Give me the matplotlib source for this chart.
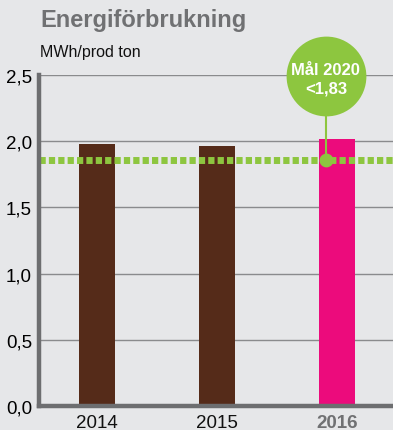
import matplotlib.pyplot as plt

years = ['2014', '2015', '2016']
values = [1.98, 1.96, 2.02]
bar_colors = ['#552b19', '#552b19', '#ec0b7c']
year_colors = ['#111111', '#111111', '#707173']
target_line = 1.86
target_label = 'Mål 2020\n<1,83'
yticks = [0.0, 0.5, 1.0, 1.5, 2.0, 2.5]
ytick_labels = ['0,0', '0,5', '1,0', '1,5', '2,0', '2,5']

bg = '#e6e7e9'
green = '#8dc63f'
grey = '#6d6e70'

plt.rcParams['font.family'] = ['Liberation Sans', 'DejaVu Sans']

fig = plt.figure(figsize=(3.93, 4.31), dpi=100, facecolor=bg)
ax = fig.add_axes([39/393, 24/431, 354/393, 331/431], facecolor=bg)

x = range(len(years))
ax.bar(x, values, width=0.3, color=bar_colors, zorder=3)

ax.set_xlim(-0.483, 2.467)
ax.set_ylim(0, 2.5)
ax.set_yticks(yticks)
ax.set_yticklabels(ytick_labels, fontsize=13.5)
ax.set_xticks(list(x))
ax.set_xticklabels(years, fontsize=13.5)
for lbl, c in zip(ax.get_xticklabels(), year_colors):
    lbl.set_color(c)
ax.get_xticklabels()[2].set_fontweight('bold')
ax.tick_params(length=0, pad=5)
ax.tick_params(axis='x', pad=6)
ax.yaxis.grid(True, color='#8a8b8d', linewidth=1.0, zorder=1)

for s in ['top', 'right']:
    ax.spines[s].set_visible(False)
for s in ['left', 'bottom']:
    ax.spines[s].set_color(grey)
    ax.spines[s].set_linewidth(3.2)
    ax.spines[s].set_zorder(5)

# target line
ax.axhline(target_line, color=green, linewidth=5, linestyle=(0, (0.9, 0.45)),
           dash_capstyle='butt', zorder=4)

# goal bubble
cx, cy = 1.908, 2.49
ax.plot([cx, cx], [target_line, cy], color=green, linewidth=1.5, zorder=6, clip_on=False)
ax.scatter([cx], [target_line], s=80, color=green, zorder=7, clip_on=False)
ax.scatter([cx], [cy], s=3300, color=green, zorder=7, clip_on=False, linewidths=0)
ax.text(cx, cy - 0.02, target_label, color='white', fontsize=12, fontweight='bold',
        ha='center', va='center', linespacing=1.3, zorder=8)

fig.text(40/393, 1 - 20/431, 'Energiförbrukning', fontsize=17, fontweight='bold',
         color='#707173', va='center')
fig.text(40/393, 1 - 52/431, 'MWh/prod ton', fontsize=11.5, color='#111111', va='center')

fig.savefig('out.png', dpi=100, facecolor=bg)
